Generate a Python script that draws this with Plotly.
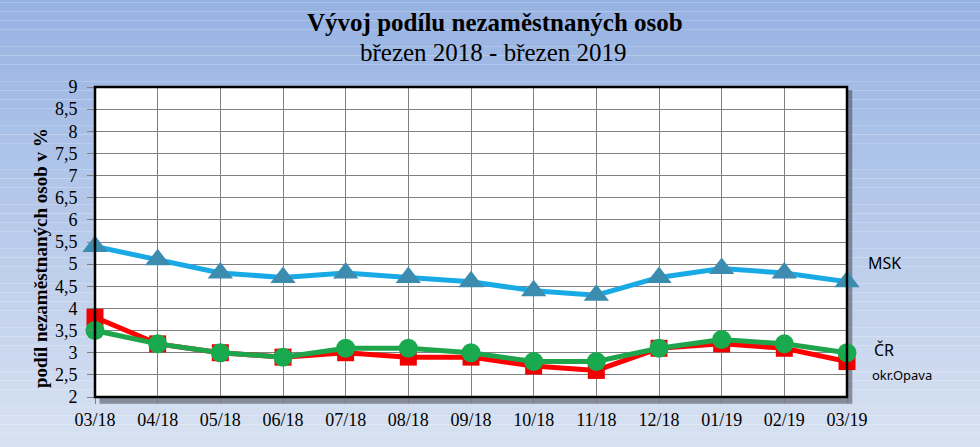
import plotly.graph_objects as go

months = ["03/18", "04/18", "05/18", "06/18", "07/18", "08/18", "09/18",
          "10/18", "11/18", "12/18", "01/19", "02/19", "03/19"]
msk = [5.4, 5.1, 4.8, 4.7, 4.8, 4.7, 4.6, 4.4, 4.3, 4.7, 4.9, 4.8, 4.6]
cr = [3.5, 3.2, 3.0, 2.9, 3.1, 3.1, 3.0, 2.8, 2.8, 3.1, 3.3, 3.2, 3.0]
opava = [3.8, 3.2, 3.0, 2.9, 3.0, 2.9, 2.9, 2.7, 2.6, 3.1, 3.2, 3.1, 2.8]
y_ticks = [2, 2.5, 3, 3.5, 4, 4.5, 5, 5.5, 6, 6.5, 7, 7.5, 8, 8.5, 9]

x = list(range(len(months)))

fig = go.Figure()
fig.add_trace(go.Scatter(x=x, y=msk, mode="lines+markers", name="MSK", cliponaxis=False,
                         line=dict(color="rgb(25,170,230)", width=5),
                         marker=dict(symbol="triangle-up", size=22, color="rgb(60,140,175)")))
fig.add_trace(go.Scatter(x=x, y=opava, mode="lines+markers", name="okr.Opava", cliponaxis=False,
                         line=dict(color="rgb(255,0,0)", width=5),
                         marker=dict(symbol="square", size=17, color="rgb(240,0,0)")))
fig.add_trace(go.Scatter(x=x, y=cr, mode="lines+markers", name="ČR", cliponaxis=False,
                         line=dict(color="rgb(30,165,75)", width=5),
                         marker=dict(symbol="circle", size=19, color="rgb(25,170,80)")))

# gradient background bands
shapes = []
n = 60
top = (150, 178, 226)
bot = (226, 233, 244)
for i in range(n):
    t = i / (n - 1)
    c = tuple(int(round(top[k] + (bot[k] - top[k]) * t)) for k in range(3))
    shapes.append(dict(type="rect", xref="paper", yref="paper",
                       x0=-0.2, x1=1.5, y0=1.3 - (i + 1) * 1.7 / n, y1=1.3 - i * 1.7 / n,
                       line=dict(width=0), fillcolor="rgb(%d,%d,%d)" % c, layer="below"))
# shadow
shapes.append(dict(type="rect", xref="paper", yref="paper", x0=0.006, x1=1.007, y0=-0.022, y1=0.99,
                   line=dict(width=0), fillcolor="rgba(60,60,70,0.5)", layer="below"))
shapes.append(dict(type="rect", xref="paper", yref="paper", x0=0, x1=1, y0=0, y1=1,
                   line=dict(width=0), fillcolor="white", layer="below"))
# border
shapes.append(dict(type="rect", xref="paper", yref="paper", x0=0, x1=1, y0=0, y1=1,
                   line=dict(width=2.5, color="black"), layer="above"))

serif = "Liberation Serif"
sans = "Noto Sans"

annotations = [
    dict(text="<b>Vývoj podílu nezaměstnaných osob</b>", x=495, y=23, xanchor="center",
         font=dict(family=serif, size=25, color="black")),
    dict(text="březen 2018 - březen 2019", x=493, y=52, xanchor="center",
         font=dict(family=serif, size=25, color="black")),
    dict(text="<b>podíl nezaměstnaných osob v %</b>", x=40, y=258, textangle=-90, xanchor="center",
         font=dict(family=serif, size=19, color="black")),
    dict(text="MSK", x=866, y=263, xanchor="left",
         font=dict(family=sans, size=16, color="black")),
    dict(text="ČR", x=872, y=350, xanchor="left",
         font=dict(family=sans, size=16, color="black")),
    dict(text="okr.Opava", x=870, y=375, xanchor="left",
         font=dict(family=sans, size=13, color="black")),
]
# convert pixel positions to paper coords
L, R, T, B = 95, 133, 87, 50
W, H = 980, 447
pw, ph = W - L - R, H - T - B
for a in annotations:
    px, py = a["x"], a["y"]
    a["x"] = (px - L) / pw
    a["y"] = 1 - (py - T) / ph
    a["xref"] = "paper"
    a["yref"] = "paper"
    a["yanchor"] = "middle"
    a["showarrow"] = False

fig.update_layout(
    width=W, height=H, margin=dict(l=L, r=R, t=T, b=B, pad=0),
    font=dict(family=serif, size=18, color="black"),
    paper_bgcolor="rgba(0,0,0,0)", plot_bgcolor="rgba(0,0,0,0)",
    showlegend=False, shapes=shapes, annotations=annotations,
    xaxis=dict(range=[0, 12], tickvals=x, ticktext=months, showgrid=True, gridcolor="rgb(128,128,128)",
               gridwidth=1, zeroline=False, ticks="outside", ticklen=6, tickcolor="rgb(128,128,128)",
               tickfont=dict(family=serif, size=18, color="black"), showline=False, fixedrange=True),
    yaxis=dict(range=[2, 9], tickvals=y_ticks, ticktext=[str(v).replace(".", ",").replace(",0", "") for v in y_ticks],
               showgrid=True, gridcolor="rgb(128,128,128)", gridwidth=1, zeroline=False,
               ticks="outside", ticklen=7, tickcolor="rgb(128,128,128)", ticklabelstandoff=6,
               tickfont=dict(family=serif, size=18, color="black"), showline=False, fixedrange=True),
)
fig.write_html("out.html", config={"displayModeBar": False})
